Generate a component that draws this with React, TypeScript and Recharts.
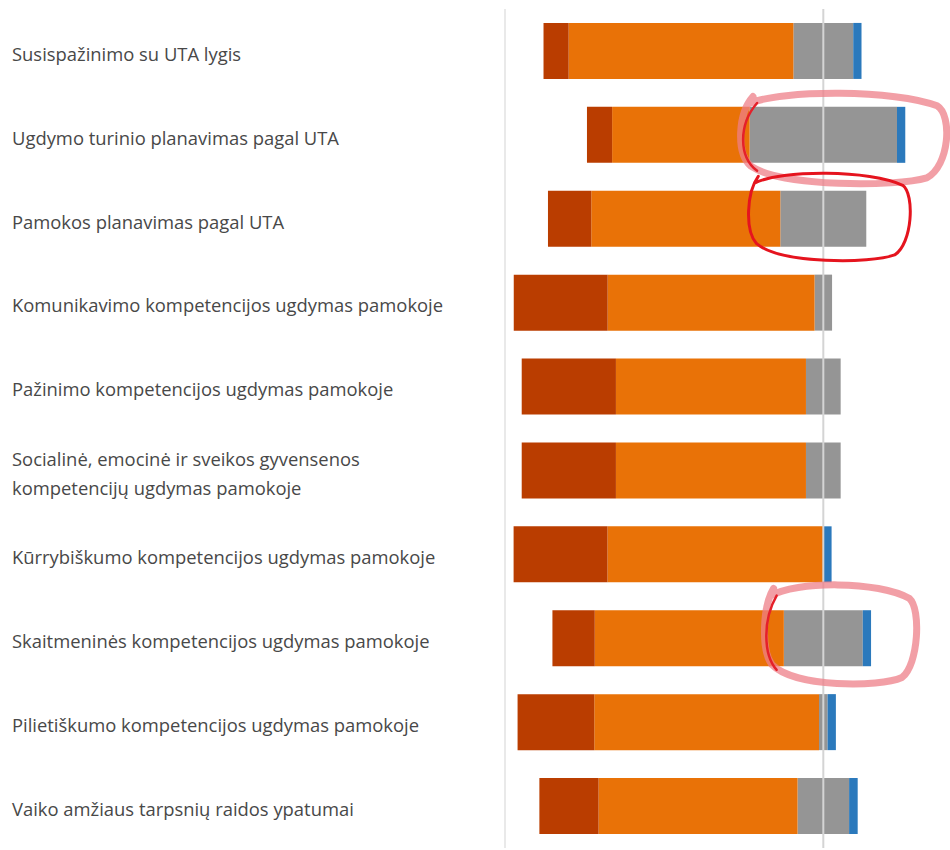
import React from "react";
import { BarChart, Bar, XAxis, YAxis, ReferenceLine, ReferenceArea } from "recharts";

const categories = [
  "Susispažinimo su UTA lygis",
  "Ugdymo turinio planavimas pagal UTA",
  "Pamokos planavimas pagal UTA",
  "Komunikavimo kompetencijos ugdymas pamokoje",
  "Pažinimo kompetencijos ugdymas pamokoje",
  "Socialinė, emocinė ir sveikos gyvensenos\nkompetencijų ugdymas pamokoje",
  "Kūrrybiškumo kompetencijos ugdymas pamokoje",
  "Skaitmeninės kompetencijos ugdymas pamokoje",
  "Pilietiškumo kompetencijos ugdymas pamokoje",
  "Vaiko amžiaus tarpsnių raidos ypatumai",
];

// percentages of answers per category
const darkValues = [7.9, 7.9, 13.6, 29.5, 29.6, 29.6, 29.5, 13.3, 24.1, 18.6];
const orangeValues = [70.6, 43.2, 59.4, 65.0, 59.7, 59.7, 67.8, 59.4, 70.6, 62.5];
const grayValues = [18.8, 46.3, 27.0, 5.5, 10.9, 10.9, 0, 24.8, 2.7, 16.2];
const blueValues = [2.6, 2.6, 0, 0, 0, 0, 2.6, 2.6, 2.6, 2.7];

// hand-drawn highlight loops (category index, from, to in % units)
const noteIndex = [1, 2, 7];
const noteFrom = [-26, -23.5, -18.5];
const noteTo = [39, 27.5, 29.5];
const noteKind = ["pink", "red", "pink"];

const data = categories.map((name, i) => ({
  name,
  grayNeg: -grayValues[i] / 2,
  orangeNeg: -orangeValues[i],
  darkNeg: -darkValues[i],
  grayPos: grayValues[i] / 2,
  blue: blueValues[i],
}));

const COLORS = {
  dark: "#BA3D00",
  orange: "#E97207",
  gray: "#959595",
  blue: "#2B79BC",
};

const FONT = "'Open Sans', 'Noto Sans', sans-serif";

const CategoryTick = (props: any) => {
  const { y, payload } = props;
  const lines = String(payload.value).split("\n");
  const lh = 29.5;
  const first = 9.8 - ((lines.length - 1) * lh) / 2;
  return (
    <text x={12} y={y} fill="#484848" fontSize={18.4} fontFamily={FONT} textAnchor="start">
      {lines.map((l: string, i: number) => (
        <tspan key={i} x={12} dy={i === 0 ? first : lh}>
          {l}
        </tspan>
      ))}
    </text>
  );
};

const loopPath = (x: number, y: number, w: number, h: number) => {
  const cx = x + w / 2;
  const cy = y + h / 2;
  const rx = w / 2;
  const ry = h / 2;
  const k = 0.5523;
  return (
    `M ${cx - rx * 0.92} ${cy - ry * 0.75} ` +
    `C ${cx - rx * 0.6} ${cy - ry * 1.05}, ${cx + rx * 0.5} ${cy - ry * 1.05}, ${cx + rx * 0.9} ${cy - ry * 0.7} ` +
    `C ${cx + rx * 1.05} ${cy - ry * 0.5}, ${cx + rx * 1.02} ${cy + ry * 0.6}, ${cx + rx * 0.8} ${cy + ry * 0.85} ` +
    `C ${cx + rx * 0.5} ${cy + ry * 1.05}, ${cx - rx * 0.6} ${cy + ry * 1.05}, ${cx - rx * 0.9} ${cy + ry * 0.6} ` +
    `C ${cx - rx * 1.05} ${cy + ry * 0.3}, ${cx - rx * 1.02} ${cy - ry * k}, ${cx - rx * 0.88} ${cy - ry * 0.9}`
  );
};

const makeLoop = (kind: string, padTop: number, padBottom: number) => (p: any) => {
  const { x, y, width, height } = p;
  if (x == null || y == null) return null;
  const yy = y - padTop;
  const hh = height + padTop + padBottom;
  const d = loopPath(x, yy, width, hh);
  if (kind === "red") {
    return <path d={d} fill="none" stroke="#E5141E" strokeWidth={3} strokeLinecap="round" />;
  }
  const leftArc =
    `M ${x + width * 0.08} ${yy + hh * 0.12} ` +
    `C ${x - width * 0.01} ${yy + hh * 0.35}, ${x - width * 0.01} ${yy + hh * 0.7}, ${x + width * 0.08} ${yy + hh * 0.85}`;
  return (
    <g>
      <path d={d} fill="none" stroke="#EE7F88" strokeOpacity={0.75} strokeWidth={7} strokeLinecap="round" />
      <path d={leftArc} fill="none" stroke="#E5202A" strokeWidth={2.5} strokeLinecap="round" />
    </g>
  );
};

const notePads = [
  [1, 8],
  [5, 1],
  [13, 5],
];

export default function App() {
  return (
    <div style={{ width: 950, height: 850, background: "#fff" }}>
      <style>{`body{margin:0}`}</style>
      <BarChart
        width={950}
        height={850}
        data={data}
        layout="vertical"
        stackOffset="sign"
        barCategoryGap="16.6%"
        margin={{ top: 9, right: 0, bottom: 2, left: 0 }}
      >
        <XAxis type="number" hide domain={[-100, 39.8]} allowDataOverflow />
        <YAxis
          type="category"
          dataKey="name"
          width={505}
          axisLine={false}
          tickLine={false}
          tick={<CategoryTick />}
          interval={0}
        />
        <Bar dataKey="grayNeg" stackId="s" fill={COLORS.gray} isAnimationActive={false} />
        <Bar dataKey="orangeNeg" stackId="s" fill={COLORS.orange} isAnimationActive={false} />
        <Bar dataKey="darkNeg" stackId="s" fill={COLORS.dark} isAnimationActive={false} />
        <Bar dataKey="grayPos" stackId="s" fill={COLORS.gray} isAnimationActive={false} />
        <Bar dataKey="blue" stackId="s" fill={COLORS.blue} isAnimationActive={false} />
        <ReferenceLine x={-100} stroke="#e2e2e2" strokeWidth={1.5} zIndex={1400} />
        <ReferenceLine x={0} stroke="#d4d4d4" strokeWidth={2} zIndex={1400} />
        {noteIndex.map((ci, i) => (
          <ReferenceArea
            key={i}
            y1={categories[ci]}
            y2={categories[ci]}
            x1={noteFrom[i]}
            x2={noteTo[i]}
            ifOverflow="visible"
            zIndex={1500}
            shape={makeLoop(noteKind[i], notePads[i][0], notePads[i][1])}
          />
        ))}
      </BarChart>
    </div>
  );
}
